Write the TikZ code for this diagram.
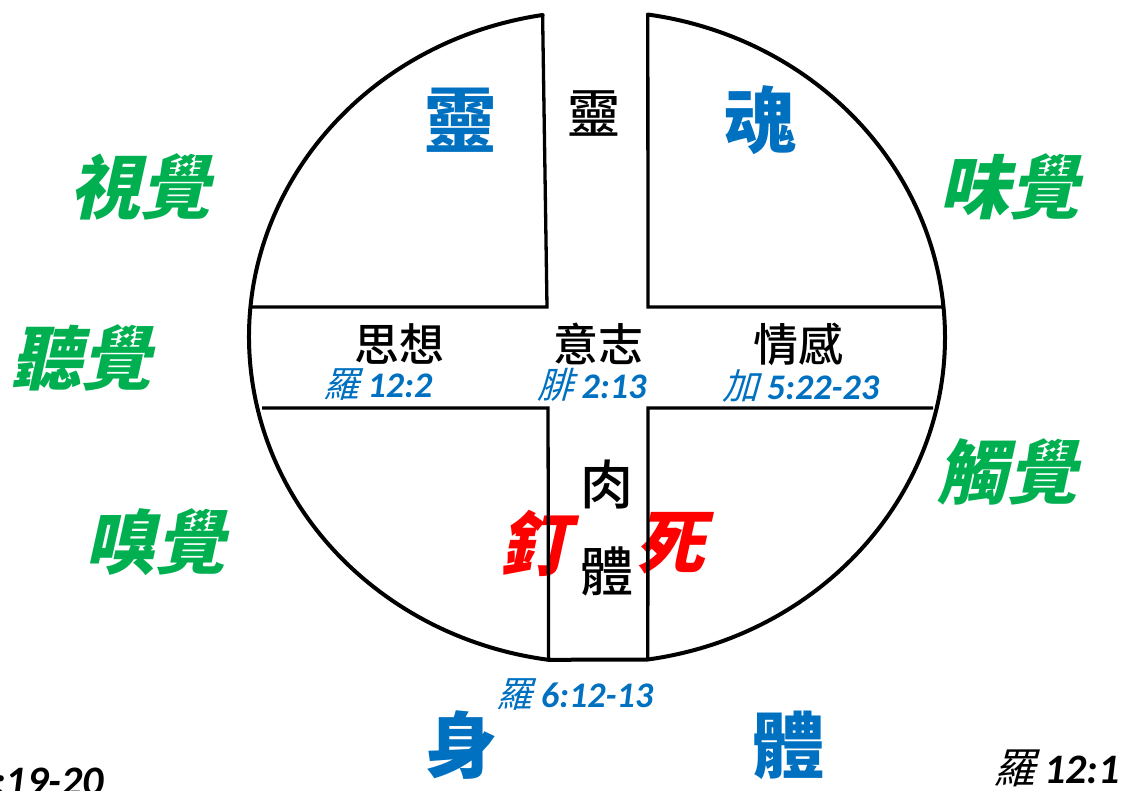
\documentclass[tikz,border=0pt]{standalone}
\usepackage{fontspec}
\newfontfamily\cjk{Noto Sans CJK TC}
\newfontfamily\cjkm[UprightFont={* Medium}]{Noto Sans CJK TC}
\newfontfamily\cjksl[FakeSlant=0.22]{Noto Sans CJK TC}
\newfontfamily\cjkref[FakeSlant=0.28]{Noto Sans CJK TC}
\newfontfamily\numfont{Carlito}
\definecolor{myblue}{HTML}{0070C0}
\definecolor{mygreen}{HTML}{00B050}
\definecolor{myred}{HTML}{FF0000}
\newcommand{\vref}[2]{{\cjkref #1}\hspace{0.22em}{\numfont\bfseries\itshape #2}}
\begin{document}
\begin{tikzpicture}[x=1pt,y=-1pt,
  outline/.style={line width=4pt, line join=round, line cap=round},
  innerline/.style={line width=3.3pt, line join=miter},
  lbl/.style={inner sep=0pt, anchor=center},
  bigblue/.style={lbl, text=myblue, font={\cjk\bfseries\fontsize{72}{80}\selectfont}},
  sense/.style={lbl, text=mygreen, font={\cjksl\bfseries\fontsize{70}{80}\selectfont}},
  part/.style={lbl, text=black, font={\cjkm\fontsize{45}{50}\selectfont}},
  flesh/.style={lbl, text=black, font={\cjkm\fontsize{53}{60}\selectfont}},
  nailtext/.style={lbl, text=myred, font={\cjksl\bfseries\fontsize{70}{78}\selectfont}},
  reftext/.style={lbl, text=myblue, font={\fontsize{36}{42}\selectfont}},
  bottomref/.style={inner sep=0pt, text=black, font={\fontsize{42}{46}\selectfont}}
]
\useasboundingbox (0,0) rectangle (1122,790);
\clip (0,0) rectangle (1122,790);

% ---- texts ----
\node[bigblue] (ling) at (460,120) {靈};
\node[bigblue] (hun) at (760,120) {魂};
\node[flesh] (lingc) at (594,113) {靈};
\node[part] (sixiang) at (399,344) {思想};
\node[part] (yizhi) at (598,344) {意志};
\node[part] (qinggan) at (798,344) {情感};
\node[reftext] (r1) at (378,385) {\vref{羅}{12:2}};
\node[reftext] (r2) at (592,385) {\vref{腓}{2:13}};
\node[reftext] (r3) at (801,386) {\vref{加}{5:22-23}};
\node[flesh] (rou) at (607,485) {肉};
\node[flesh] (ti) at (607,571) {體};
\node[nailtext] (ding) at (534,543) {釘};
\node[nailtext] (si) at (670,543) {死};
\node[reftext] (r4) at (575,695) {\vref{羅}{6:12-13}};
\node[bigblue] (shen) at (461,745) {身};
\node[bigblue] (tib) at (788,745) {體};
\node[sense] (shi) at (140,187) {視覺};
\node[sense] (ting) at (82,358) {聽覺};
\node[sense] (xiu) at (155,542) {嗅覺};
\node[sense] (wei) at (1009,187) {味覺};
\node[sense] (chu) at (1007,472) {觸覺};
\node[bottomref, anchor=base east] (r5) at (1120,783) {\vref{羅}{12:1}};
\node[bottomref, anchor=base west] (r6) at (-6,795) {\numfont\bfseries\itshape :19-20};

% ---- circle outline ----
\coordinate (TL) at (542.6,15.0);
\coordinate (TR) at (647.8,14.5);
\coordinate (BL) at (548.6,659.8);
\coordinate (BR) at (647.8,659.5);
\draw[outline] (TL) arc[start angle=261, end angle=98, x radius=348, y radius=326]
  -- (BR) arc[start angle=81.6, end angle=-81.6, x radius=348, y radius=326];

% ---- cross ----
\coordinate (cTL) at (547,307);
\coordinate (cTR) at (648,307);
\coordinate (cBL) at (548,408);
\coordinate (cBR) at (648,408);
\coordinate (eL1) at (250.5,307);
\coordinate (eR1) at (943.5,307);
\coordinate (eL2) at (262,408);
\coordinate (eR2) at (933,408);
\draw[innerline] (TL) -- (cTL) -- (eL1);
\draw[innerline] (TR) -- (cTR) -- (eR1);
\draw[innerline] (eL2) -- (cBL) -- (BL);
\draw[innerline] (eR2) -- (cBR) -- (BR);
\end{tikzpicture}
\end{document}
